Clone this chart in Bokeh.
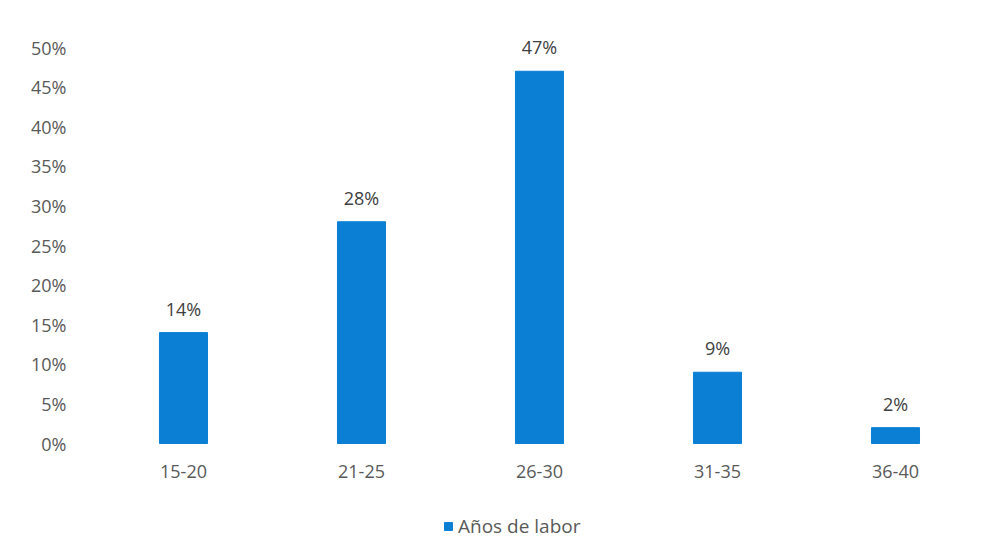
from bokeh.plotting import figure
from bokeh.models import ColumnDataSource, FixedTicker, PrintfTickFormatter, Legend, LegendItem, LabelSet
from bokeh.core.properties import value
from bokeh.embed import file_html
from bokeh.resources import INLINE

categories = ["15-20", "21-25", "26-30", "31-35", "36-40"]
values = [14, 28, 47, 9, 2]
labels = [f"{v}%" for v in values]
series_name = "Años de labor"
y_ticks = [0, 5, 10, 15, 20, 25, 30, 35, 40, 45, 50]

FONT = "Open Sans"
BAR = "#0a7fd4"
TXT = "#595959"
FS = "18px"

src = ColumnDataSource(dict(cat=categories, val=values, lab=labels, zero=[0] * len(categories)))

# the frame fills the page height so that nothing (top label, legend) is clipped;
# 0%..50% still spans 396 px, from y=443 to y=47 on the page
px_per_unit = 396 / 50
y_bottom = -115 / px_per_unit
y_top = 50 + 47 / px_per_unit
p = figure(x_range=categories, y_range=(y_bottom, y_top), frame_width=890, frame_height=558,
           output_backend="svg", toolbar_location=None,
           min_border_left=94, min_border_right=14, min_border_top=0, min_border_bottom=0)
p.outline_line_color = None
p.background_fill_color = "white"
p.border_fill_color = "white"

r = p.vbar(x="cat", top="val", bottom=0, width=0.27, source=src, color=BAR)

p.xgrid.grid_line_color = None
p.ygrid.grid_line_color = None
p.xaxis.visible = False
p.yaxis.ticker = FixedTicker(ticks=y_ticks)
p.yaxis.formatter = PrintfTickFormatter(format="%d%%")
ya = p.yaxis[0]
ya.axis_line_color = None
ya.major_tick_line_color = None
ya.minor_tick_line_color = None
ya.major_label_text_font = FONT
ya.major_label_text_font_size = FS
ya.major_label_text_color = TXT
ya.major_label_standoff = 22

# category labels under the bars
p.text(x="cat", y="zero", text="cat", source=src, text_align="center", text_baseline="top",
       y_offset=21, text_font=value(FONT), text_font_size=FS, text_color=TXT)

lbl = LabelSet(x="cat", y="val", text="lab", source=src, text_align="center",
               text_baseline="bottom", y_offset=12, text_font=value(FONT),
               text_font_size=FS, text_color="#404040")
p.add_layout(lbl)

legend = Legend(items=[LegendItem(label=series_name, renderers=[r])],
                orientation="horizontal", location=(349, 19),
                label_text_font=FONT, label_text_font_size="19px",
                label_text_color=TXT, glyph_width=10, glyph_height=10,
                label_standoff=5, border_line_color=None, padding=4, margin=0,
                label_height=16, background_fill_alpha=0)
p.add_layout(legend)

open("out.html", "w").write(file_html(p, INLINE))
